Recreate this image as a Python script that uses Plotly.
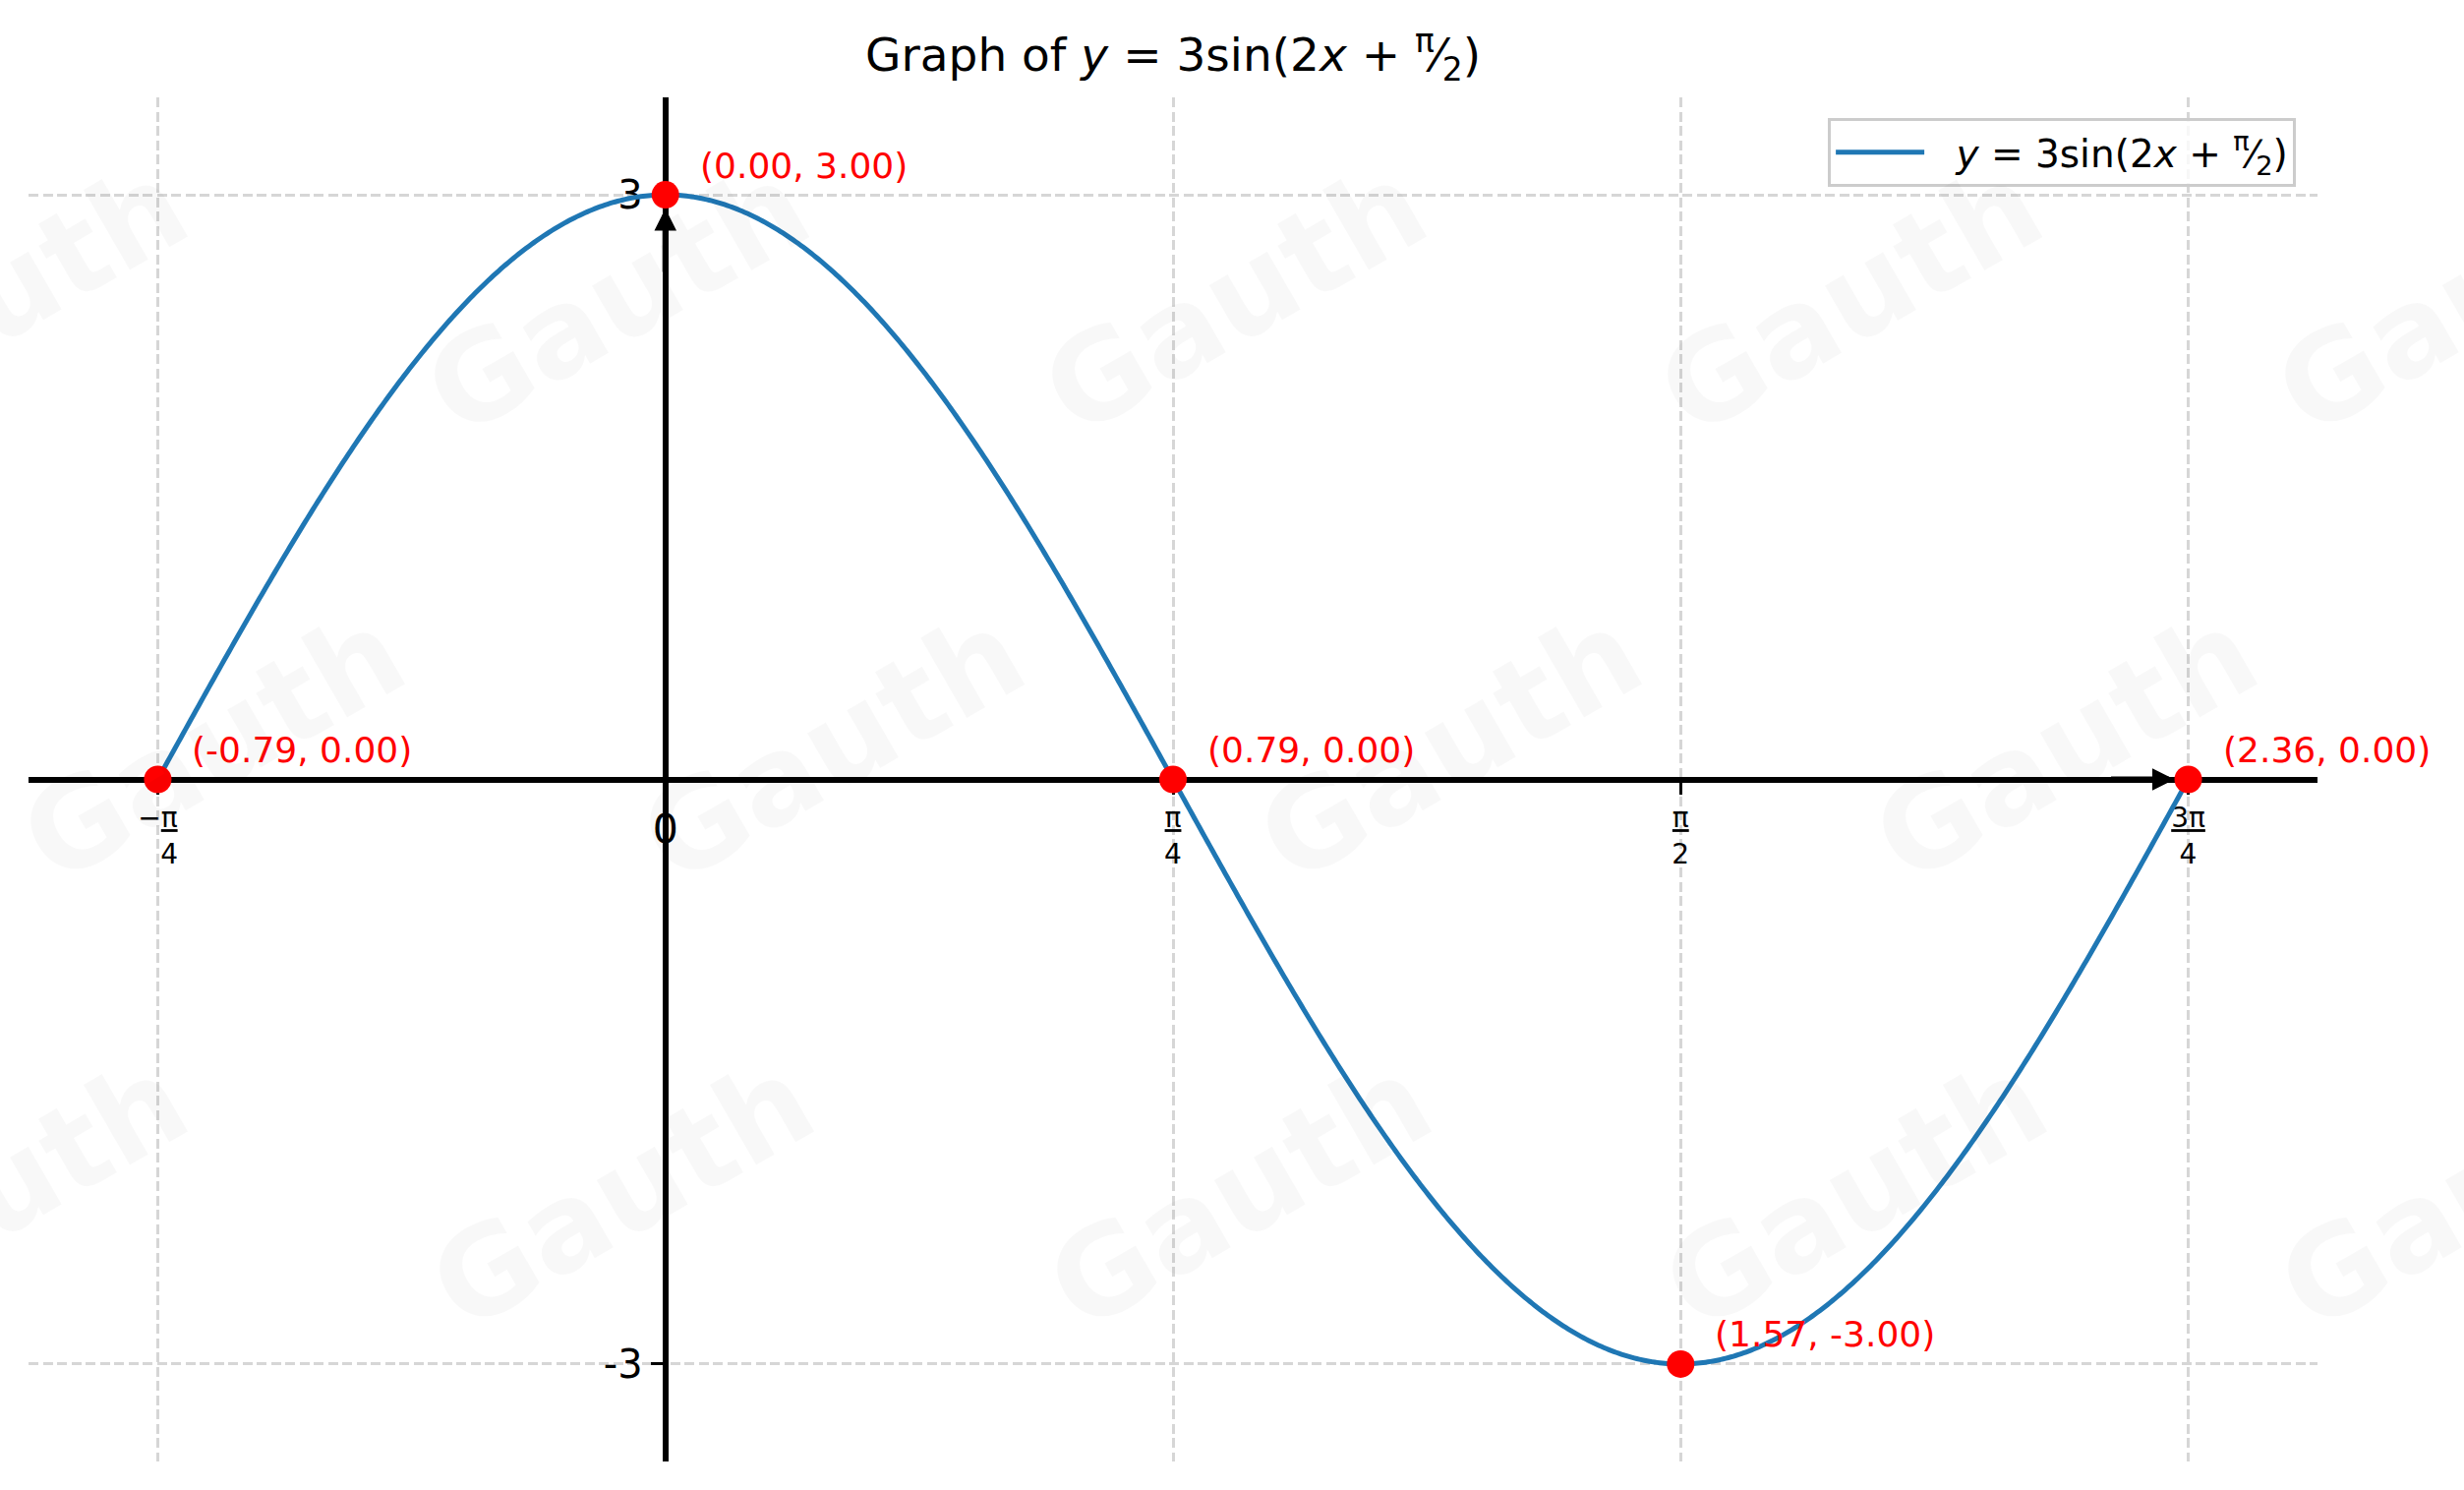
import numpy as np
import plotly.graph_objects as go

PI = np.pi

# Function drawn in the reference (stated in its title): y = 3 sin(2x + pi/2)
amplitude = 3
frequency = 2
phase = PI / 2
x_start = -PI / 4
x_end = 3 * PI / 4

# Highlighted key points and their labels
key_x = [-PI / 4, 0, PI / 4, PI / 2, 3 * PI / 4]
key_y = [0, 3, 0, -3, 0]
key_labels = ["(-0.79, 0.00)", "(0.00, 3.00)", "(0.79, 0.00)", "(1.57, -3.00)", "(2.36, 0.00)"]

# Tick labels
xtick_vals = [-PI / 4, 0, PI / 4, PI / 2, 3 * PI / 4]
xtick_text = [
    "−<u>π</u><br><span style='color:rgba(0,0,0,0)'>−</span>4",
    "<span style='font-size:41px;baseline-shift:-16px'>0</span>",
    "<u>π</u><br>4",
    "<u>π</u><br>2",
    "<u>3π</u><br>4",
]
ytick_vals = [-3, 3]
ytick_text = ["-3", "3"]

x_range = [-PI / 4 - 0.2, 3 * PI / 4 + 0.2]
y_range = [-3.5, 3.5]

title_text = "Graph of <i>y</i> = 3sin(2<i>x</i> + <sup>π</sup>⁄<sub>2</sub>)"
legend_text = "\u2002\u2009<i>y</i> = 3sin(2<i>x</i> + <sup>π</sup>⁄<sub>2</sub>)"

FONT = "DejaVu Sans"
W, H = 2506, 1515
ML, MR, MT, MB = 29, 149, 99, 29
PW, PH = W - ML - MR, H - MT - MB

x_curve = np.linspace(x_start, x_end, 800)
y_curve = amplitude * np.sin(frequency * x_curve + phase)

fig = go.Figure()
fig.add_trace(go.Scatter(
    x=x_curve, y=y_curve, mode="lines", name=legend_text,
    line=dict(color="#1f77b4", width=5, simplify=False), hoverinfo="skip",
))
fig.add_trace(go.Scatter(
    x=key_x, y=key_y, mode="markers", showlegend=False,
    marker=dict(color="#ff0000", size=28, line=dict(width=0)),
))

annotations = []
for xv, yv, lab in zip(key_x, key_y, key_labels):
    annotations.append(dict(
        x=xv, y=yv, xref="x", yref="y", text=lab, showarrow=False,
        xanchor="left", yanchor="middle", xshift=33, yshift=30,
        font=dict(family=FONT, size=36, color="#ff0000"),
    ))

# axis arrow heads
annotations.append(dict(
    x=key_x[-1], y=0, xref="x", yref="y", ax=-80, ay=0, axref="pixel", ayref="pixel",
    showarrow=True, arrowhead=2, arrowsize=0.75, arrowwidth=6, arrowcolor="black",
    standoff=14, text="",
))
annotations.append(dict(
    x=0, y=key_y[1], xref="x", yref="y", ax=0, ay=80, axref="pixel", ayref="pixel",
    showarrow=True, arrowhead=2, arrowsize=0.75, arrowwidth=6, arrowcolor="black",
    standoff=14, text="",
))

# faint watermark tiles (pixel centres)
wm_rows = [
    (304, [-5, 628, 1255, 1882, 2509]),
    (759, [216, 847, 1474, 2100]),
    (1214, [-5, 632, 1260, 1886, 2512]),
]
for py, xs in wm_rows:
    for px in xs:
        annotations.append(dict(
            x=(px - ML) / PW, y=1 - (py - MT) / PH, xref="paper", yref="paper",
            xanchor="center", yanchor="middle",
            text="<b>Gauth</b>", showarrow=False, textangle=-30,
            font=dict(family=FONT, size=124, color="rgba(0,0,0,0.028)"),
        ))

x_axis_pos = (0 - y_range[0]) / (y_range[1] - y_range[0])
y_axis_pos = (0 - x_range[0]) / (x_range[1] - x_range[0])

fig.update_layout(
    template="none",
    width=W, height=H,
    margin=dict(l=ML, r=MR, t=MT, b=MB, pad=0),
    paper_bgcolor="white", plot_bgcolor="white",
    font=dict(family=FONT, color="black"),
    title=dict(text=title_text, x=(ML + PW / 2) / W, xanchor="center",
               y=1 - 56 / H, yanchor="middle", yref="container",
               font=dict(family=FONT, size=47, color="black")),
    showlegend=True,
    legend=dict(x=0.9906, y=0.985, xanchor="right", yanchor="top",
                bgcolor="rgba(255,255,255,0.8)", bordercolor="#cccccc", borderwidth=3,
                font=dict(family=FONT, size=39, color="black"), itemwidth=90),
    xaxis=dict(
        range=x_range, anchor="free", position=x_axis_pos, automargin=False,
        showline=True, linecolor="black", linewidth=6, layer="below traces",
        zeroline=False, showgrid=True, gridcolor="#d6d6d6", gridwidth=2.8, griddash="10px,4.5px",
        tickmode="array", tickvals=xtick_vals, ticktext=xtick_text,
        ticks="outside", ticklen=12, tickwidth=2.8, tickcolor="black",
        tickfont=dict(family=FONT, size=28, color="black"),
    ),
    yaxis=dict(
        range=y_range, anchor="free", position=y_axis_pos, automargin=False,
        showline=True, linecolor="black", linewidth=6, layer="below traces",
        zeroline=False, showgrid=True, gridcolor="#d6d6d6", gridwidth=2.8, griddash="10px,4.5px",
        tickmode="array", tickvals=ytick_vals, ticktext=ytick_text,
        ticks="outside", ticklen=12, tickwidth=2.8, tickcolor="black",
        tickfont=dict(family=FONT, size=40, color="black"),
    ),
    annotations=annotations,
)

fig.write_html("out.html", config={"displayModeBar": False},
               post_script="document.body.style.margin='0';document.body.style.overflow='hidden';")
